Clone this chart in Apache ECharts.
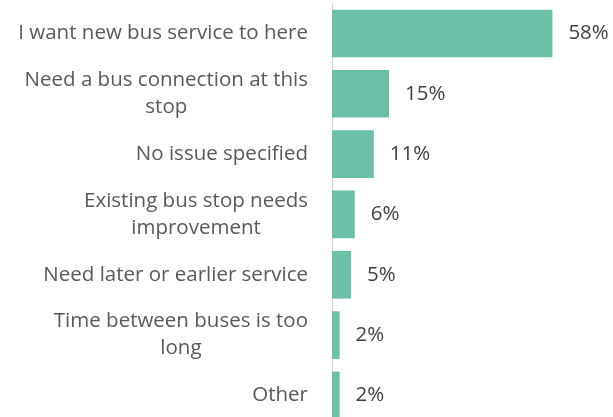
<!DOCTYPE html>
<html>
<head>
<meta charset="utf-8">
<script src="https://cdn.jsdelivr.net/npm/echarts@6/dist/echarts.min.js"></script>
<style>
  html, body { margin: 0; padding: 0; background: #ffffff; }
  #chart { width: 613px; height: 417px; }
</style>
</head>
<body>
<div id="chart"></div>
<script>
// Reasons given for requested stops (share of responses, %)
const categories = [
  'I want new bus service to here',
  'Need a bus connection at this\nstop',
  'No issue specified',
  'Existing bus stop needs\nimprovement',
  'Need later or earlier service',
  'Time between buses is too\nlong',
  'Other'
];
const shares = [58, 15, 11, 6, 5, 2, 2];

const FONT = '"Open Sans"';

const chart = echarts.init(document.getElementById('chart'), null, { renderer: 'canvas' });

chart.setOption({
  backgroundColor: '#ffffff',
  animation: false,
  // plot area runs slightly past the bottom edge of the canvas
  grid: {
    left: 332, width: 228, top: 3.3, height: 422.3,
    containLabel: false,
    outerBoundsMode: 'none'
  },
  xAxis: {
    type: 'value',
    min: 0,
    max: 60,
    show: false
  },
  yAxis: {
    type: 'category',
    inverse: true,
    data: categories,
    axisLine: { show: true, lineStyle: { color: '#d4d4d4', width: 1 } },
    axisTick: { show: false },
    splitLine: { show: false },
    axisLabel: {
      margin: 24,
      align: 'right',
      verticalAlign: 'middle',
      formatter: function (v) {
        // each wrapped line centred within the label block
        return v.split('\n').map(function (s) { return '{c|' + s + '}'; }).join('\n');
      },
      rich: {
        c: {
          align: 'center',
          fontFamily: FONT,
          fontSize: 20.5,
          lineHeight: 27,
          color: '#595959'
        }
      }
    }
  },
  series: [{
    type: 'bar',
    data: shares,
    barCategoryGap: '21%',
    itemStyle: { color: '#6cc0a8' },
    label: {
      show: true,
      position: 'right',
      distance: 16,
      formatter: '{c}%',
      fontFamily: FONT,
      fontSize: 20.5,
      color: '#404040'
    }
  }]
});
</script>
</body>
</html>
